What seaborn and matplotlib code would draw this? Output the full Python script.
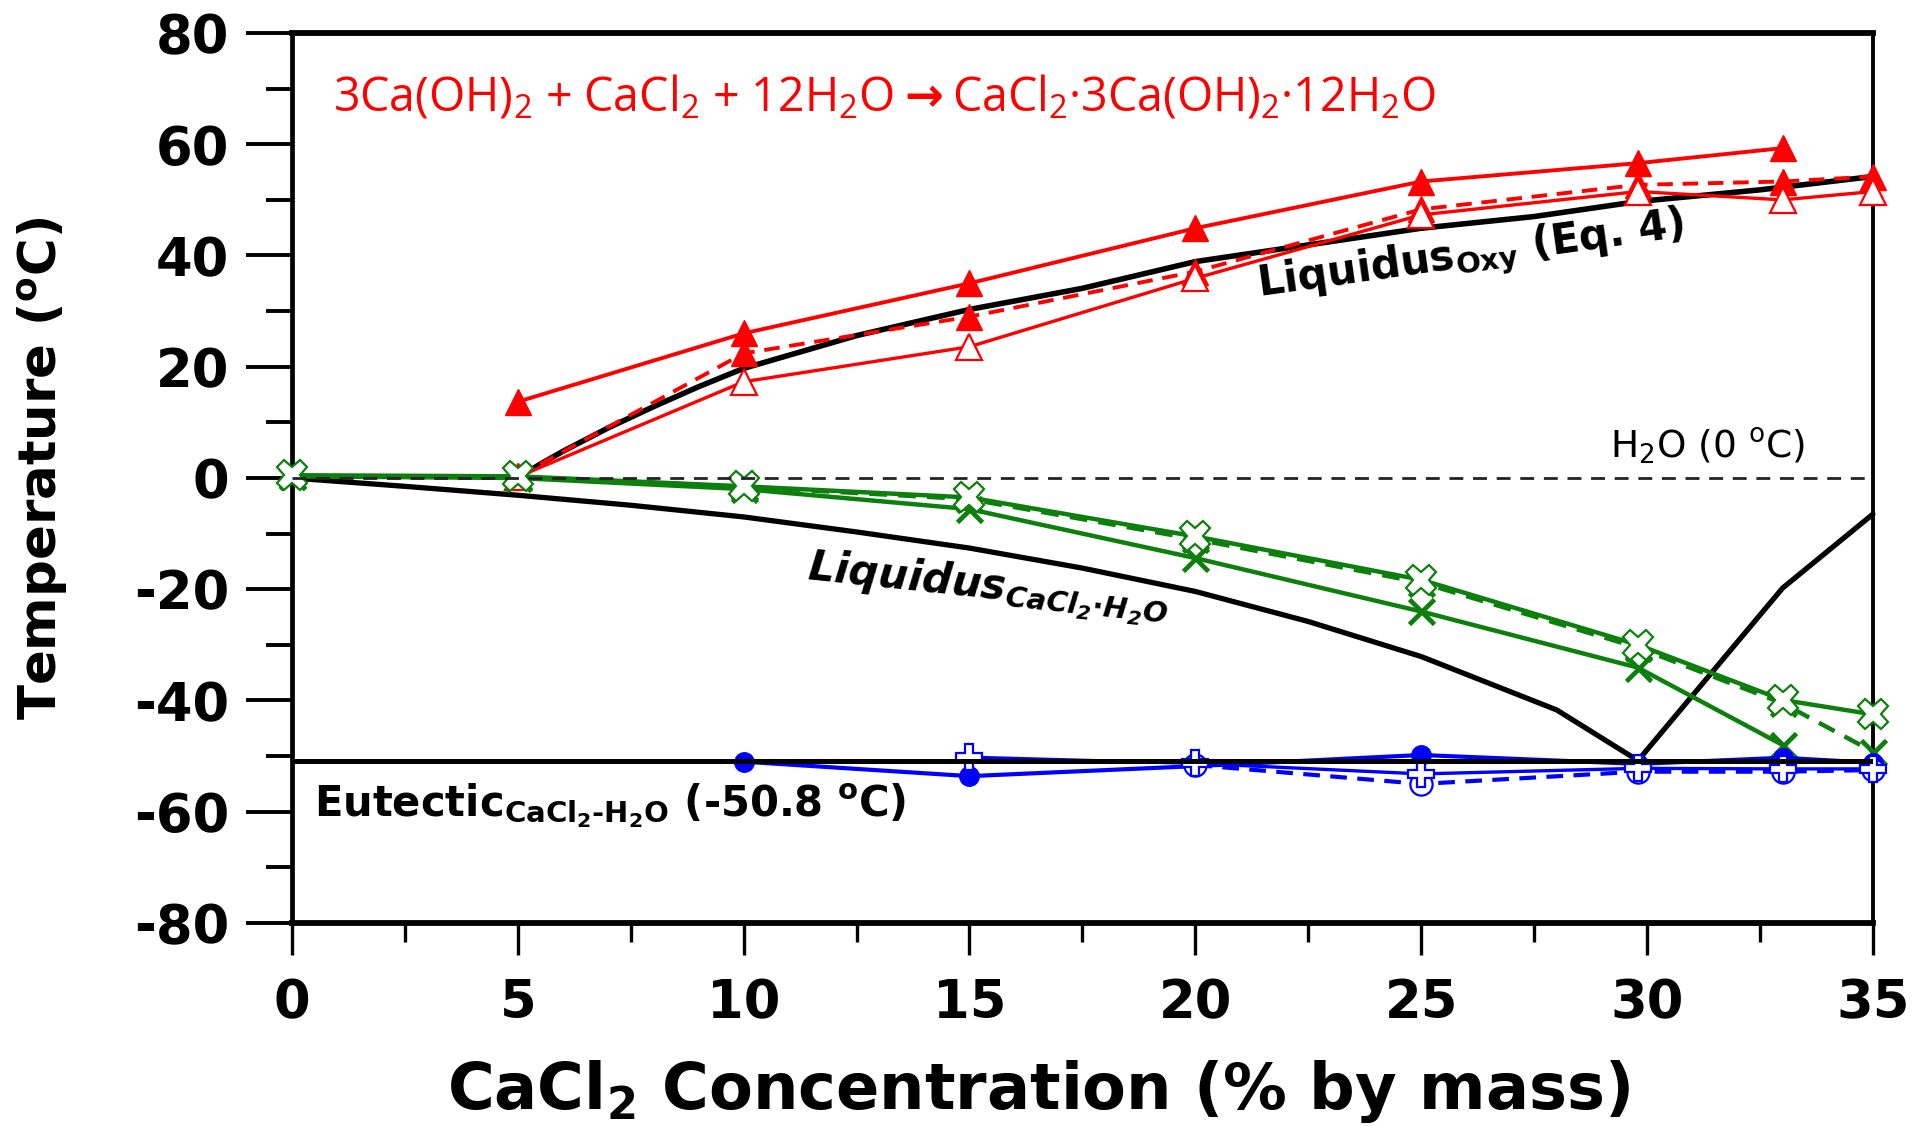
import matplotlib
matplotlib.use("Agg")
import matplotlib.pyplot as plt
import seaborn as sns
import pandas as pd
from matplotlib.ticker import MultipleLocator

# ---------------- data ----------------
conc_ticks = [0, 5, 10, 15, 20, 25, 30, 35]
temp_ticks = [-80, -60, -40, -20, 0, 20, 40, 60, 80]

# liquidus of the oxychloride phase (Eq. 4)
liq_oxy_x = [5, 5.5, 6, 7, 8, 9, 10, 12.5, 15, 17.5, 20, 22.5, 25, 27.5, 29.8, 32.5, 35]
liq_oxy_y = [0, 2.5, 4.8, 9.0, 12.8, 16.4, 19.7, 25.6, 30.3, 34.1, 38.9, 41.9, 44.9, 47.0, 49.7, 51.8, 54.2]

# CaCl2-H2O liquidus down to the eutectic and back up
liq_cacl2_x = [0, 2.5, 5, 7.5, 10, 12.5, 15, 17.5, 20, 22.5, 25, 28, 29.8, 33, 35]
liq_cacl2_y = [0, -1.5, -3.1, -4.9, -7.0, -9.7, -12.6, -16.2, -20.4, -25.8, -32.1, -41.7, -50.8, -19.8, -6.5]

eutectic_t = -50.8
water_t = 0.0

# red: oxychloride formation temperatures
red_up_x = [5, 10, 15, 20, 25, 29.8, 33]
red_up_y = [13.7, 26.0, 35.0, 44.9, 53.3, 56.6, 59.3]
red_dash_x = [5, 10, 15, 20, 25, 29.8, 33, 35]
red_dash_y = [0.3, 22.4, 29.0, 37.1, 48.3, 52.7, 53.3, 54.2]
red_open_x = [5, 10, 15, 20, 25, 29.8, 33, 35]
red_open_y = [0.2, 17.3, 23.6, 35.9, 47.3, 51.5, 50.0, 51.5]

# green: freezing points
green_open_x = [0, 5, 10, 15, 20, 25, 29.8, 33, 35]
green_open_y = [0.5, 0.3, -1.5, -3.5, -10.5, -18.3, -30.0, -39.9, -42.5]
green_cross_x = [0, 5, 10, 15, 20, 25, 29.8, 33]
green_cross_y = [0.3, 0.0, -2.0, -5.6, -14.4, -24.0, -34.1, -48.0]
green_dash_x = [0, 5, 10, 15, 20, 25, 29.8, 33, 35]
green_dash_y = [0.3, 0.2, -1.6, -3.8, -11.0, -18.8, -30.5, -40.5, -49.2]

# blue: eutectic temperatures
blue_fill_x = [10, 15, 20, 25, 29.8, 33, 35]
blue_fill_y = [-51.0, -53.6, -51.8, -49.8, -51.4, -50.3, -51.2]
blue_open_x = [20, 25, 29.8, 33, 35]
blue_open_y = [-51.6, -55.0, -52.8, -52.8, -52.5]
blue_plus_x = [15, 20, 25, 29.8, 33, 35]
blue_plus_y = [-50.2, -51.3, -53.2, -52.2, -52.3, -52.3]

RED = "#ff0000"
GREEN = "#0c7f0c"
BLUE = "#0000ff"

# ---------------- style ----------------
sns.set_style("white")
plt.rcParams["font.family"] = ["DejaVu Sans"]
plt.rcParams["mathtext.default"] = "regular"
plt.rcParams["axes.unicode_minus"] = False
for key in ("text.color", "axes.labelcolor", "xtick.color", "ytick.color",
            "axes.edgecolor"):
    plt.rcParams[key] = "black"

fig = plt.figure(figsize=(19.32, 11.26), dpi=100)
ax = fig.add_axes([0.1511, 0.1803, 0.8183, 0.7904])


def draw(x, y, **kw):
    df = pd.DataFrame({"x": x, "y": y})
    sns.lineplot(data=df, x="x", y="y", ax=ax, sort=False, estimator=None,
                 clip_on=False, **kw)


# reference lines
ax.axhline(water_t, color="#222222", lw=2.0, ls=(0, (5, 3.5)), zorder=5)
ax.axhline(eutectic_t, color="black", lw=3.6, zorder=6)

# liquidus curves
draw(liq_cacl2_x, liq_cacl2_y, color="black", lw=3.8, zorder=2)
draw(liq_oxy_x, liq_oxy_y, color="black", lw=4.0, zorder=2)

# red series
draw(red_up_x, red_up_y, color=RED, lw=2.8, marker="^", markersize=19,
     markerfacecolor=RED, markeredgecolor=RED, markeredgewidth=1, zorder=3)
draw(red_dash_x, red_dash_y, color=RED, lw=2.8, linestyle=(0, (4, 2.5)),
     marker="^", markersize=19, markerfacecolor=RED, markeredgecolor=RED,
     markeredgewidth=1, zorder=3)
draw(red_open_x, red_open_y, color=RED, lw=2.4, marker="^", markersize=19,
     markerfacecolor="white", markeredgecolor=RED, markeredgewidth=1.6, zorder=3)

# green series
draw(green_dash_x, green_dash_y, color=GREEN, lw=3.2, linestyle=(0, (4, 2.5)),
     marker="x", markersize=18, markeredgecolor=GREEN, markeredgewidth=3.4, zorder=3)
draw(green_cross_x, green_cross_y, color=GREEN, lw=3.2, marker="x",
     markersize=18, markeredgecolor=GREEN, markeredgewidth=3.4, zorder=3)
draw(green_open_x, green_open_y, color=GREEN, lw=3.2, marker="X",
     markersize=22, markerfacecolor="white", markeredgecolor=GREEN,
     markeredgewidth=1.6, zorder=4)

# blue series
draw(blue_fill_x, blue_fill_y, color=BLUE, lw=3.0, marker="o", markersize=14,
     markerfacecolor=BLUE, markeredgecolor=BLUE, markeredgewidth=1, zorder=3)
draw(blue_open_x, blue_open_y, color=BLUE, lw=3.0, linestyle=(0, (4, 2.5)),
     marker="o", markersize=16, markerfacecolor="white", markeredgecolor=BLUE,
     markeredgewidth=1.6, zorder=4)
draw(blue_plus_x, blue_plus_y, color=BLUE, lw=2.4, marker="P", markersize=19,
     markerfacecolor="white", markeredgecolor=BLUE, markeredgewidth=1.6, zorder=4)

# ---------------- axes ----------------
ax.set_xlim(conc_ticks[0], conc_ticks[-1])
ax.set_ylim(temp_ticks[0], temp_ticks[-1])
ax.set_xticks(conc_ticks)
ax.set_yticks(temp_ticks)
ax.xaxis.set_minor_locator(MultipleLocator(2.5))
ax.yaxis.set_minor_locator(MultipleLocator(10))

ax.tick_params(axis="y", which="major", direction="out", length=33, width=2.8,
               pad=12, labelsize=38, left=True, right=False)
ax.tick_params(axis="y", which="minor", direction="out", length=19, width=2.8,
               left=True, right=False)
ax.tick_params(axis="x", which="major", direction="out", length=23, width=2.4,
               pad=16, labelsize=38, bottom=True, top=False)
ax.tick_params(axis="x", which="minor", direction="out", length=14, width=2.4,
               bottom=True, top=False)
for lab in ax.get_xticklabels() + ax.get_yticklabels():
    lab.set_fontweight("bold")

for side, w in (("top", 4.2), ("bottom", 4.2), ("left", 3.4), ("right", 2.8)):
    ax.spines[side].set_visible(True)
    ax.spines[side].set_linewidth(w)
    ax.spines[side].set_color("black")

ax.set_xlabel("CaCl$_2$ Concentration (% by mass)", fontsize=46,
              fontweight="bold")
ax.xaxis.set_label_coords(0.472, -0.152)
ax.set_ylabel("Temperature ($^o$C)", fontsize=37, fontweight="bold")
ax.yaxis.set_label_coords(-0.1575, 0.511)
ax.yaxis.label.set_va("center")

# ---------------- annotations ----------------
ax.text(0.9, 65.9,
        r"3Ca(OH)$_2$ + CaCl$_2$ + 12H$_2$O$\mathbf{\rightarrow}$CaCl$_2$·3Ca(OH)$_2$·12H$_2$O",
        color=RED, fontsize=33.5, family="Open Sans", ha="left", va="baseline")

ax.text(21.4, 32.7, "Liquidus$_{Oxy}$ (Eq. 4)", fontsize=30, fontweight="bold",
        rotation=8, rotation_mode="anchor", ha="left", va="baseline")
ax.text(11.4, -18.3, r"Liquidus$_{CaCl_2{\cdot}H_2O}$", fontsize=30,
        fontweight="bold", style="italic", rotation=-6, rotation_mode="anchor",
        ha="left", va="baseline")
ax.text(0.48, -60.9, "Eutectic$_{CaCl_2\u2010H_2O}$ (-50.8 $^o$C)", fontsize=30,
        fontweight="bold", ha="left", va="baseline")
ax.text(33.5, 3.6, "H$_2$O (0 $^o$C)", fontsize=27, ha="right", va="baseline")

fig.savefig("out.png", dpi=100)
